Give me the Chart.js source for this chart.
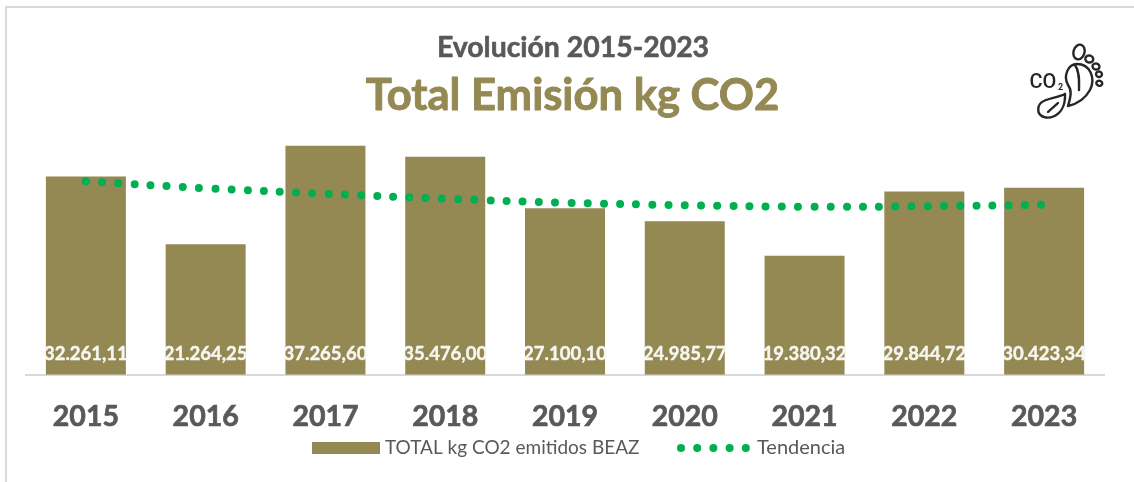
<!DOCTYPE html>
<html>
<head>
<meta charset="utf-8">
<script src="https://cdn.jsdelivr.net/npm/chart.js@4"></script>
<style>
  html, body { margin: 0; padding: 0; background: #fff; }
  #wrap { position: relative; width: 1134px; height: 482px; overflow: hidden; }
  #frame { position: absolute; left: 5px; top: 6px; width: 1200px; height: 600px; border: 2px solid #d9d9d9; box-sizing: border-box; }
  #chart { position: absolute; left: 0; top: 0; }
</style>
</head>
<body>
<div id="wrap">
  <div id="frame"></div>
  <canvas id="chart" width="1134" height="482"></canvas>
</div>
<script>
const years = ["2015", "2016", "2017", "2018", "2019", "2020", "2021", "2022", "2023"]
const totalKg = [32261.11, 21264.25, 37265.60, 35476.00, 27100.10, 24985.77, 19380.32, 29844.72, 30423.34]
const trendKg = [31490, 30360, 29460, 28650, 28000, 27600, 27350, 27430, 27680]
const yRange = [0, 40000]
const titleLine = "Evolución 2015-2023"
const subtitleLine = "Total Emisión kg CO2"

const OLIVE = "#948853"
const GREEN = "#00b050"
const GREY = "#595959"
const FONT = "Lato, sans-serif"

const fmt = v => v.toLocaleString("de-DE", { minimumFractionDigits: 2, maximumFractionDigits: 2 })

// fill plus a hairline stroke, Lato bold alone comes out too light here
const boldText = (ctx, text, x, y, color, width) => {
  ctx.fillStyle = color
  ctx.strokeStyle = color
  ctx.lineWidth = width
  ctx.lineJoin = "round"
  ctx.strokeText(text, x, y)
  ctx.fillText(text, x, y)
}

// the heading is centred off the canvas middle, so it is placed by hand
const heading = {
  id: "heading",
  afterDraw(chart) {
    const ctx = chart.ctx
    ctx.save()
    ctx.textAlign = "center"
    ctx.textBaseline = "alphabetic"
    ctx.font = "bold 28.4px " + FONT
    boldText(ctx, titleLine, 573, 57, GREY, 0.6)
    ctx.font = "bold 43.6px " + FONT
    boldText(ctx, subtitleLine, 572.5, 110, OLIVE, 0.9)
    ctx.restore()
  }
}

// value labels sit at the inside bottom of each bar
const barLabels = {
  id: "barLabels",
  afterDatasetsDraw(chart) {
    const ctx = chart.ctx
    const meta = chart.getDatasetMeta(1)
    ctx.save()
    ctx.font = "bold 18.5px " + FONT
    ctx.textAlign = "center"
    ctx.textBaseline = "alphabetic"
    meta.data.forEach((bar, i) => boldText(ctx, fmt(totalKg[i]), bar.x, 359.5, "#f7f7f2", 0.4))
    ctx.restore()
  }
}

// legend drawn by hand because the dotted sample can't be done by the stock legend
const dottedLegend = {
  id: "dottedLegend",
  afterDraw(chart) {
    const ctx = chart.ctx
    const y = 448
    ctx.save()
    ctx.fillStyle = OLIVE
    ctx.fillRect(312, 442, 68, 12)
    ctx.font = "19px " + FONT
    ctx.fillStyle = GREY
    ctx.textBaseline = "middle"
    ctx.fillText(chart.data.datasets[1].label, 385, y)
    ctx.fillStyle = GREEN
    for (let i = 0; i < 5; i++) {
      ctx.beginPath()
      ctx.arc(681 + i * 16.2, y, 4, 0, Math.PI * 2)
      ctx.fill()
    }
    ctx.font = "20px " + FONT
    ctx.fillStyle = GREY
    ctx.fillText(chart.data.datasets[0].label, 757, y)
    ctx.restore()
  }
}

// CO2 footprint icon in the top right corner
const footIcon = {
  id: "footIcon",
  afterDraw(chart) {
    const ctx = chart.ctx
    ctx.save()
    ctx.strokeStyle = "#262626"
    ctx.lineWidth = 2.4
    ctx.lineCap = "round"
    ctx.fillStyle = "#262626"
    ctx.textBaseline = "alphabetic"
    ctx.font = "500 20px 'Liberation Sans Narrow', Roboto, sans-serif"
    ctx.fillText("CO", 1029.5, 88)
    ctx.font = "bold 9px Roboto, sans-serif"
    ctx.fillText("2", 1058, 90)
    // sole
    ctx.beginPath()
    ctx.moveTo(1068, 106)
    ctx.bezierCurveTo(1071, 96, 1072, 90, 1068, 85)
    ctx.bezierCurveTo(1063, 76, 1068, 64, 1077, 64)
    ctx.bezierCurveTo(1090, 64, 1096, 78, 1090, 90)
    ctx.bezierCurveTo(1085, 99, 1077, 104, 1068, 106)
    ctx.stroke()
    ctx.beginPath()
    ctx.moveTo(1075, 65)
    ctx.bezierCurveTo(1080, 72, 1079, 82, 1079, 90)
    ctx.stroke()
    // toes
    const toes = [[1079, 52, 5.5, 7.5], [1089.3, 59, 4, 3.5], [1096, 66.5, 3.5, 3], [1099, 74.3, 3, 2.7], [1099.3, 83.3, 3, 2.5]]
    toes.forEach(([x, y, rx, ry]) => {
      ctx.beginPath()
      ctx.ellipse(x, y, rx, ry, 0.3, 0, Math.PI * 2)
      ctx.stroke()
    })
    // leaf
    ctx.beginPath()
    ctx.moveTo(1065, 94)
    ctx.bezierCurveTo(1052, 100, 1036, 98, 1038.5, 112)
    ctx.bezierCurveTo(1042, 122, 1066, 120, 1065, 94)
    ctx.stroke()
    ctx.beginPath()
    ctx.moveTo(1048, 112)
    ctx.bezierCurveTo(1052, 108, 1055, 106, 1058, 103)
    ctx.stroke()
    ctx.restore()
  }
}

new Chart(document.getElementById("chart"), {
  data: {
    labels: years,
    datasets: [
      {
        type: "line",
        label: "Tendencia",
        data: trendKg,
        borderColor: GREEN,
        borderWidth: 8,
        borderDash: [0, 16.2],
        borderCapStyle: "round",
        pointRadius: 0,
        tension: 0.4,
        order: 0
      },
      {
        type: "bar",
        label: "TOTAL kg CO2 emitidos BEAZ",
        data: totalKg,
        backgroundColor: OLIVE,
        barPercentage: 1,
        categoryPercentage: 80 / 119.8,
        order: 1
      }
    ]
  },
  options: {
    responsive: false,
    animation: false,
    layout: { padding: { left: 26, right: 30, top: 129, bottom: 23 } },
    plugins: {
      legend: { display: false },
      tooltip: { enabled: false },
      title: { display: false }
    },
    scales: {
      x: {
        grid: { display: false, drawTicks: false },
        border: { color: "#d9d9d9", width: 2 },
        ticks: {
          color: GREY,
          font: { family: FONT, size: 28.5, weight: "bold" },
          textStrokeColor: GREY,
          textStrokeWidth: 0.7,
          padding: 25,
          maxRotation: 0
        }
      },
      y: {
        display: false,
        min: yRange[0],
        max: yRange[1]
      }
    }
  },
  plugins: [heading, barLabels, dottedLegend, footIcon]
})
</script>
</body>
</html>
